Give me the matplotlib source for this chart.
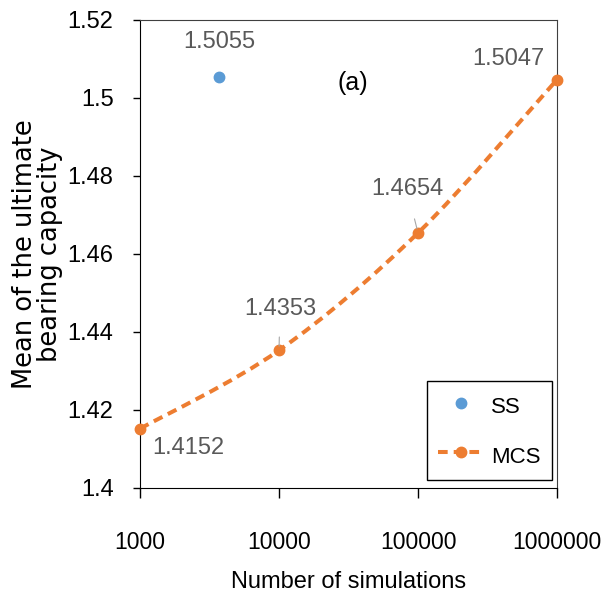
import numpy as np
import matplotlib
matplotlib.use("Agg")
import matplotlib.pyplot as plt
from matplotlib.path import Path
from matplotlib.patches import PathPatch
from matplotlib.lines import Line2D

# ---- data ----
mcs_n = [1000, 10000, 100000, 1000000]
mcs_mean = [1.4152, 1.4353, 1.4654, 1.5047]
ss_n = [3700]
ss_mean = [1.5055]
mcs_labels = ["1.4152", "1.4353", "1.4654", "1.5047"]
ss_labels = ["1.5055"]
xticks = [1000, 10000, 100000, 1000000]
xtick_labels = ["1000", "10000", "100000", "1000000"]
yticks = [1.40, 1.42, 1.44, 1.46, 1.48, 1.50, 1.52]
ytick_labels = ["1.4", "1.42", "1.44", "1.46", "1.48", "1.5", "1.52"]

ORANGE = "#ED7D31"
BLUE = "#5B9BD5"
GRAY = "#595959"
NARROW = ["Liberation Sans", "DejaVu Sans"]

fig = plt.figure(figsize=(6.06, 6.07), dpi=100)
ax = fig.add_axes([140/606, 1-488/607, 417/606, 468/607])
ax.set_xscale("log")
ax.set_xlim(1000, 1000000)
ax.set_ylim(1.40, 1.52)

# smoothed line (Bezier through the data points in log-x space)
lx = np.log10(mcs_n)
yy = np.array(mcs_mean)
P = np.column_stack([lx, yy])
Pe = np.vstack([P[0], P, P[-1]])
verts = [P[0]]
codes = [Path.MOVETO]
for i in range(len(P) - 1):
    p0, p1, p2, p3 = Pe[i], Pe[i+1], Pe[i+2], Pe[i+3]
    c1 = p1 + (p2 - p0) / 6.0
    c2 = p2 - (p3 - p1) / 6.0
    verts += [c1, c2, p2]
    codes += [Path.CURVE4] * 3
verts = np.array(verts)
verts[:, 0] = 10 ** verts[:, 0]
DASH = (0, (2.4, 1.5))
patch = PathPatch(Path(verts, codes), fill=False, edgecolor=ORANGE, lw=2.9,
                  linestyle=DASH, transform=ax.transData, zorder=2,
                  capstyle="butt", clip_on=False)
ax.add_patch(patch)
ax.plot(mcs_n, mcs_mean, ls="none", marker="o", ms=7.5, color=ORANGE, zorder=3,
        clip_on=False)
ax.plot(ss_n, ss_mean, ls="none", marker="o", ms=7.5, color=BLUE, zorder=3)

# data labels
lab_kw = dict(textcoords="offset pixels", fontsize=17, color=GRAY, family=NARROW,
              va="center")
ax.annotate(ss_labels[0], (ss_n[0], ss_mean[0]), xytext=(0, 35), ha="center", **lab_kw)
ax.annotate(mcs_labels[0], (mcs_n[0], mcs_mean[0]), xytext=(12, -19), ha="left", **lab_kw)
ax.annotate(mcs_labels[1], (mcs_n[1], mcs_mean[1]), xytext=(1, 41), ha="center",
            arrowprops=dict(arrowstyle="-", color="#A6A6A6", lw=0.8, shrinkA=10, shrinkB=3), **lab_kw)
ax.annotate(mcs_labels[2], (mcs_n[2], mcs_mean[2]), xytext=(-11, 44), ha="center",
            arrowprops=dict(arrowstyle="-", color="#A6A6A6", lw=0.8, shrinkA=12, shrinkB=3), **lab_kw)
ax.annotate(mcs_labels[3], (mcs_n[3], mcs_mean[3]), xytext=(-12, 21), ha="right", **lab_kw)

ax.text(0.511, 0.865, "(a)", transform=ax.transAxes, fontsize=18, family=NARROW,
        ha="center", va="center", color="black")

# axes styling
ax.set_xticks(xticks)
ax.set_xticklabels(xtick_labels, family=NARROW, fontsize=16.5)
ax.xaxis.set_minor_locator(matplotlib.ticker.NullLocator())
ax.set_yticks(yticks)
ax.set_yticklabels(ytick_labels, family=NARROW, fontsize=17)
ax.tick_params(axis="x", direction="out", length=7, width=1, pad=24, colors="black")
ax.tick_params(axis="y", direction="out", length=5, width=1, pad=14, colors="black")
for s in ["left", "bottom"]:
    ax.spines[s].set_color("black")
for s in ["top", "right"]:
    ax.spines[s].set_color("#404040")

ax.set_xlabel("Number of simulations", family=NARROW, fontsize=17, labelpad=12)
ylab = ax.set_ylabel("Mean of the ultimate\nbearing capacity", family="DejaVu Sans",
                     fontsize=18.5, linespacing=0.95)
ylab.set_va("center")
ax.yaxis.set_label_coords(-0.245, 0.5)

# legend
h_ss = Line2D([], [], ls="none", marker="o", ms=7.5, color=BLUE)
h_mcs = Line2D([], [], ls=DASH, lw=2.9, marker="o", ms=7.5, color=ORANGE)
leg = ax.legend([h_ss, h_mcs], ["SS", "MCS"], loc="lower right",
                bbox_to_anchor=(412/417, 8/468), prop={"family": NARROW, "size": 16},
                frameon=True, fancybox=False, edgecolor="black", framealpha=1,
                handlelength=2.1, handleheight=1.5, handletextpad=0.3,
                labelspacing=1.0, borderpad=0.5, borderaxespad=0)
leg.get_frame().set_linewidth(1.0)

fig.savefig("out.png", dpi=100)
